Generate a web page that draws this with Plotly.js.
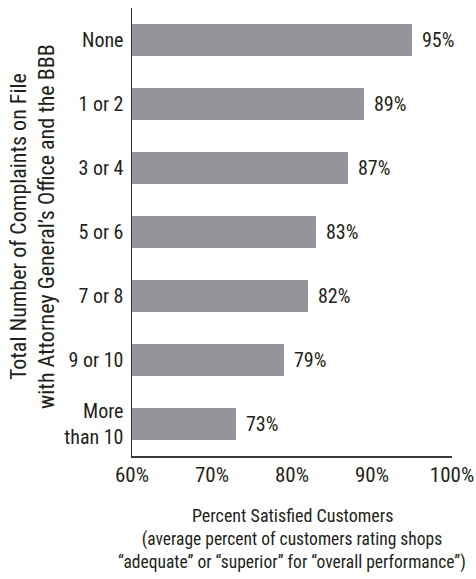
<!DOCTYPE html>
<html>
<head>
<meta charset="utf-8">
<script src="https://cdn.plot.ly/plotly-3.0.1.min.js"></script>
<style>html,body{margin:0;padding:0;background:#fff;}#chart{width:476px;height:579px;}</style>
</head>
<body>
<div id="chart"></div>
<script>
const categories = ["None", "1 or 2", "3 or 4", "5 or 6", "7 or 8", "9 or 10", "More<br>than 10"];
const satisfied = [95, 89, 87, 83, 82, 79, 73];
const tickValues = [60, 70, 80, 90, 100];
const tickLabels = ["60%", "70%", "80%", "90%", "100%"];
const yTitle = "Total Number of Complaints on File<br>with Attorney General\u2019s Office and the BBB";
const xTitle = "Percent Satisfied Customers";
const xSubtitle = "(average percent of customers rating shops<br>\u201cadequate\u201d or \u201csuperior\u201d for \u201coverall performance\u201d)";

const FONT = "'Roboto Condensed', 'DejaVu Sans Condensed', sans-serif";
const INK = "#231f20";

const trace = {
  type: "bar",
  orientation: "h",
  y: categories,
  x: satisfied,
  width: 0.5,
  marker: {color: "#939598", line: {width: 0}},
  hoverinfo: "skip"
};

const valueLabels = satisfied.map((v, i) => ({
  x: v, y: categories[i], xref: "x", yref: "y",
  text: v + "%", showarrow: false, xanchor: "left", yanchor: "middle",
  xshift: 8, font: {family: FONT, size: 20, color: INK}
}));

const layout = {
  width: 476,
  height: 579,
  margin: {l: 132, r: 24, t: 8, b: 123, pad: 0},
  paper_bgcolor: "#fff",
  plot_bgcolor: "#fff",
  showlegend: false,
  font: {family: FONT, color: INK, size: 20},
  xaxis: {
    range: [60, 100],
    tickvals: tickValues,
    ticktext: tickLabels,
    showgrid: false,
    zeroline: false,
    showline: true,
    linecolor: "#3a3a3a",
    linewidth: 1.5,
    ticks: "",
    ticklabelstandoff: -1,
    ticklabeloverflow: "allow",
    tickfont: {family: FONT, size: 21, color: INK},
    fixedrange: true
  },
  yaxis: {
    autorange: "reversed",
    showgrid: false,
    zeroline: false,
    showline: true,
    linecolor: "#3a3a3a",
    linewidth: 1.5,
    ticks: "",
    ticklabelstandoff: 3,
    tickfont: {family: FONT, size: 20, color: INK},
    fixedrange: true
  },
  annotations: valueLabels.concat([
    {
      text: yTitle, xref: "paper", yref: "paper", x: -0.31, y: 0.513,
      xanchor: "center", yanchor: "middle", textangle: -90, showarrow: false,
      font: {family: FONT, size: 22, color: INK}
    },
    {
      text: xTitle, xref: "paper", yref: "paper", x: 0.5, y: 0, yshift: -59,
      xanchor: "center", yanchor: "middle", showarrow: false,
      font: {family: FONT, size: 18, color: INK}
    },
    {
      text: xSubtitle, xref: "paper", yref: "paper", x: 0.5, y: 0, yshift: -95,
      xanchor: "center", yanchor: "middle", showarrow: false,
      font: {family: FONT, size: 17.5, color: INK}
    }
  ])
};

Plotly.newPlot("chart", [trace], layout, {staticPlot: true, displayModeBar: false});
</script>
</body>
</html>
